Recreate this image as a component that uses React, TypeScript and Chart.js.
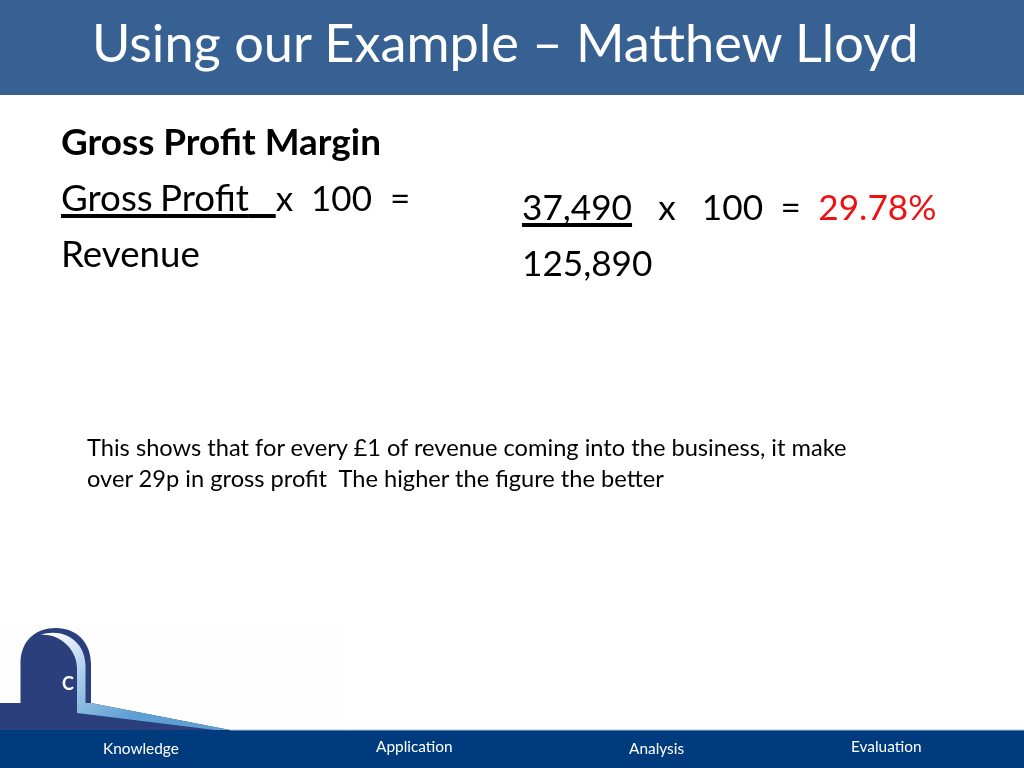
import { useEffect, useRef } from "react";
import { Chart, registerables, type Plugin } from "chart.js";

Chart.register(...registerables);

const TITLE = "Using our Example – Matthew Lloyd";
const HEADING = "Gross Profit Margin";
const FORMULA_NUMERATOR = "Gross Profit";
const FORMULA_REST = "x  100  =";
const FORMULA_DENOMINATOR = "Revenue";
const WORKED_NUMERATOR = "37,490";
const WORKED_REST = "   x   100  =  ";
const WORKED_RESULT = "29.78%";
const WORKED_DENOMINATOR = "125,890";
const NOTE_LINES = [
  "This shows that for every £1 of revenue coming into the business, it make",
  "over 29p in gross profit  The higher the figure the better",
];
const FOOTER_LABELS = ["Knowledge", "Application", "Analysis", "Evaluation"];

const FONT = 'Lato, "Noto Sans", sans-serif';

// slide furniture: header band, footer band and the logo
const slidePlugin: Plugin = {
  id: "slide",
  beforeDraw(chart) {
    const ctx = chart.ctx;
    ctx.save();
    ctx.fillStyle = "#ffffff";
    ctx.fillRect(0, 0, 1024, 768);

    ctx.fillStyle = "#376192";
    ctx.fillRect(0, 0, 1024, 95);

    ctx.fillStyle = "#fffefe";
    ctx.fillRect(0, 626, 345, 104);

    // dark arch and plinth
    ctx.fillStyle = "#2b3f7c";
    ctx.beginPath();
    ctx.moveTo(0, 703);
    ctx.lineTo(20.5, 703);
    ctx.lineTo(20.5, 664);
    ctx.bezierCurveTo(20.5, 640, 36, 628, 56, 628);
    ctx.bezierCurveTo(76, 628, 91, 642, 91, 664);
    ctx.lineTo(91, 703);
    ctx.lineTo(230, 730);
    ctx.lineTo(0, 730);
    ctx.closePath();
    ctx.fill();

    // light sweep inside the arch running down the ramp
    const sweep = ctx.createLinearGradient(50, 632, 120, 725);
    sweep.addColorStop(0, "#ffffff");
    sweep.addColorStop(0.45, "#a9cdea");
    sweep.addColorStop(1, "#5f9fd3");
    ctx.fillStyle = sweep;
    ctx.beginPath();
    ctx.moveTo(40, 635);
    ctx.bezierCurveTo(62, 627, 85, 640, 85.5, 665);
    ctx.lineTo(85.5, 703);
    ctx.lineTo(91, 703);
    ctx.lineTo(230, 730);
    ctx.lineTo(215, 730);
    ctx.lineTo(77, 713);
    ctx.lineTo(77, 668);
    ctx.bezierCurveTo(77, 650, 60, 633, 40, 635);
    ctx.closePath();
    ctx.fill();

    ctx.fillStyle = "#003b7d";
    ctx.fillRect(0, 730, 1024, 38);
    ctx.fillStyle = "#a9c4e0";
    ctx.fillRect(230, 729.5, 794, 1);
    ctx.restore();
  },
};

function Label({
  x,
  y,
  size,
  color = "#000000",
  weight = 400,
  children,
}: {
  x: number;
  y: number;
  size: number;
  color?: string;
  weight?: number;
  children: React.ReactNode;
}) {
  return (
    <div
      style={{
        position: "absolute",
        left: x,
        top: y,
        fontSize: size,
        lineHeight: 0,
        color,
        fontWeight: weight,
        whiteSpace: "pre",
        fontFamily: FONT,
      }}
    >
      {children}
    </div>
  );
}

const underline = {
  textDecoration: "underline",
  textDecorationThickness: "3.5px",
  textDecorationSkipInk: "none",
  textUnderlineOffset: "3px",
};

export default function App() {
  const canvasRef = useRef<HTMLCanvasElement>(null);

  useEffect(() => {
    if (!canvasRef.current) return;
    const chart = new Chart(canvasRef.current, {
      type: "scatter",
      data: { datasets: [] },
      options: {
        animation: false,
        responsive: false,
        plugins: { legend: { display: false }, tooltip: { enabled: false } },
        scales: { x: { display: false }, y: { display: false } },
      },
      plugins: [slidePlugin],
    });
    return () => chart.destroy();
  }, []);

  return (
    <div style={{ position: "fixed", left: 0, top: 0, width: 1024, height: 768, overflow: "hidden", background: "#fff" }}>
      <canvas ref={canvasRef} width={1024} height={768} style={{ position: "absolute", left: 0, top: 0 }} />
      <Label x={92} y={42} size={52.3} color="#ffffff">{TITLE}</Label>
      <Label x={61} y={141} size={36.9} weight={700}>{HEADING}</Label>
      <Label x={61} y={197} size={36.7}>
        <span style={{ ...underline, wordSpacing: -2 }}>{FORMULA_NUMERATOR}</span>
        <span style={{ ...underline, wordSpacing: 4 }}>{"  "}</span>
        <span style={{ fontSize: 35 }}>{FORMULA_REST}</span>
      </Label>
      <Label x={61} y={253} size={36.7}>{FORMULA_DENOMINATOR}</Label>
      <Label x={522} y={206} size={35.2}>
        <span style={underline}>{WORKED_NUMERATOR}</span>
        <span style={{ wordSpacing: -0.3 }}>{WORKED_REST}</span>
        <span style={{ color: "#ee1111" }}>{WORKED_RESULT}</span>
      </Label>
      <Label x={522} y={262} size={35.2}>{WORKED_DENOMINATOR}</Label>
      <Label x={87} y={447} size={23.65}>{NOTE_LINES[0]}</Label>
      <Label x={87} y={478} size={23.65}>{NOTE_LINES[1]}</Label>
      <Label x={62} y={683} size={18} color="#ffffff" weight={700}>C</Label>
      <Label x={103} y={748} size={15.4} color="#ffffff">{FOOTER_LABELS[0]}</Label>
      <Label x={376} y={746} size={15.4} color="#ffffff">{FOOTER_LABELS[1]}</Label>
      <Label x={629} y={748} size={15.4} color="#ffffff">{FOOTER_LABELS[2]}</Label>
      <Label x={851} y={746} size={15.4} color="#ffffff">{FOOTER_LABELS[3]}</Label>
    </div>
  );
}
